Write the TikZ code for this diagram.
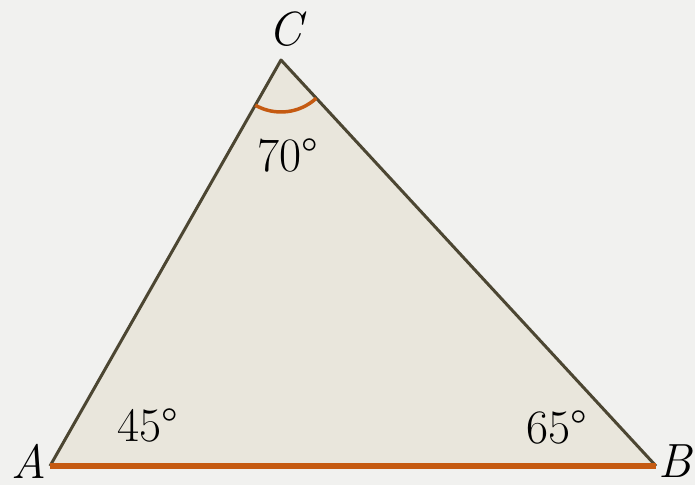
\documentclass[tikz,border=0pt]{standalone}
\usepackage{fontspec}
\usetikzlibrary{angles,calc}
\definecolor{bgcol}{HTML}{F1F1EF}
\definecolor{trifill}{HTML}{E9E6DC}
\definecolor{tristroke}{HTML}{4C4632}
\definecolor{accent}{HTML}{C55A11}
\begin{document}
\begin{tikzpicture}[x=1pt,y=1pt,
  lbl/.style={inner sep=0pt, font=\fontsize{48}{52}\selectfont},
  side/.style={draw=tristroke, line width=3pt, line join=round}]
\fill[bgcol] (0,0) rectangle (695,485);
\useasboundingbox (0,0) rectangle (695,485);
\coordinate (A) at (50,19);
\coordinate (B) at (656,19);
\coordinate (C) at (281,425);
\fill[trifill] (A) -- (B) -- (C) -- cycle;
\draw[side] (B) -- (C) -- (A);
\draw[accent, line width=6pt] (A) -- (B);
\pic[draw=accent, line width=3.5pt, angle radius=52pt] {angle=A--C--B};
\node[lbl] (lC) at (288,456) {\textit{C}};
\node[lbl] (lA) at (29,24) {\textit{A}};
\node[lbl] (lB) at (676,24) {\textit{B}};
\node[lbl] (l70) at (288,330) {70°};
\node[lbl] (l45) at (148,60) {45°};
\node[lbl] (l65) at (557,58) {65°};
\end{tikzpicture}
\end{document}
